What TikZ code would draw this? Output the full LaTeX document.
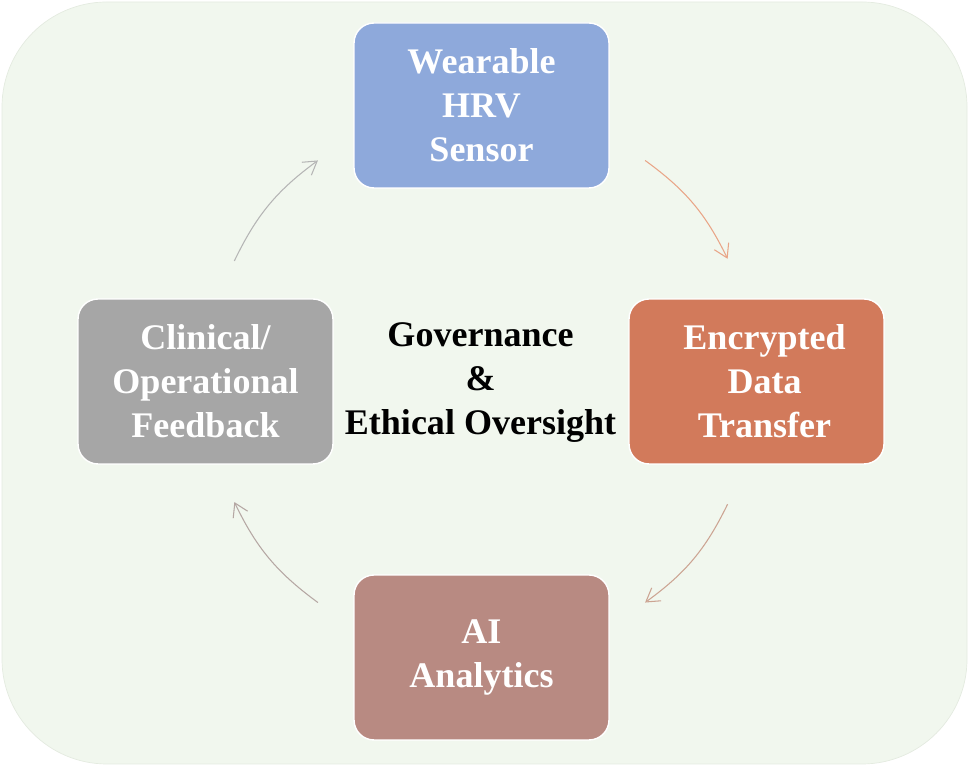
\documentclass[tikz,border=0pt]{standalone}
\usepackage{fontspec}
\setmainfont{Liberation Serif}
\usepackage{tikz}
\usetikzlibrary{positioning, arrows.meta, calc}
\usepackage{xcolor}
\definecolor{bgfill}{HTML}{F1F7EE}
\definecolor{bgline}{HTML}{E4EBE0}
\definecolor{sensorfill}{HTML}{8EA9DB}
\definecolor{transferfill}{HTML}{D27A5B}
\definecolor{aifill}{HTML}{B88A82}
\definecolor{feedfill}{HTML}{A6A6A6}
\definecolor{arrgrey}{HTML}{B5B5B5}
\definecolor{arrorange}{HTML}{E9A587}
\definecolor{arrbrown}{HTML}{CCA492}
\definecolor{arrtaupe}{HTML}{B5A7A3}

\begin{document}
\begin{tikzpicture}[
    x=0.02cm, y=0.02cm,
    >={Straight Barb[length=2.6mm, width=3.2mm]},
    every node/.style={font=\bfseries\fontsize{20.5}{25}\selectfont},
    stagebox/.style={
        rectangle, rounded corners=0.4cm, draw=white, line width=0.8pt,
        text=white, align=center, inner sep=2pt,
        minimum width=5.1cm, minimum height=3.3cm,
    },
    cyc/.style={->, line width=0.6pt, bend left=14}
]

\useasboundingbox (0,0) rectangle (969,766);

% Background panel
\fill[bgfill, draw=bgline, line width=0.4pt, rounded corners=2.1cm]
    (2,2) rectangle (967,764);

% Centre label
\coordinate (ctr) at (481.5,384.5);
\node[align=center] (gov) at ($(ctr)+(-1,-1)$)
    {Governance\\ \&\\ Ethical Oversight};

% Stages of the cycle
\node[stagebox, fill=sensorfill] (sensor) at ($(ctr)+(0,276)$)
    {Wearable\\ HRV\\ Sensor};
\node[stagebox, fill=transferfill] (transfer) at ($(ctr)+(275,0)$)
    {\hspace*{0.32cm}Encrypted\\ \hspace*{0.32cm}Data\\
     \hspace*{0.32cm}Transfer};
\node[stagebox, fill=aifill] (analytics) at ($(ctr)+(0,-276)$)
    {AI\\ Analytics};
\node[stagebox, fill=feedfill] (feedback) at ($(ctr)+(-276,0)$)
    {Clinical/\\ Operational\\ Feedback};

% --- Arc ends, on a circle round the centre ---
\coordinate (tl1) at ($(ctr)+(154:275)$);
\coordinate (tl2) at ($(ctr)+(126.5:275)$);
\coordinate (tr1) at ($(ctr)+(53.5:275)$);
\coordinate (tr2) at ($(ctr)+(26.5:275)$);
\coordinate (br1) at ($(ctr)+(-26.5:275)$);
\coordinate (br2) at ($(ctr)+(-53.5:275)$);
\coordinate (bl1) at ($(ctr)+(-126.5:275)$);
\coordinate (bl2) at ($(ctr)+(-154:275)$);

% --- Clockwise flow ---
\draw[cyc, draw=arrgrey] (tl1) to (tl2);
\draw[cyc, draw=arrorange] (tr1) to (tr2);
\draw[cyc, draw=arrbrown] (br1) to (br2);
\draw[cyc, draw=arrtaupe] (bl1) to (bl2);

\end{tikzpicture}
\end{document}
